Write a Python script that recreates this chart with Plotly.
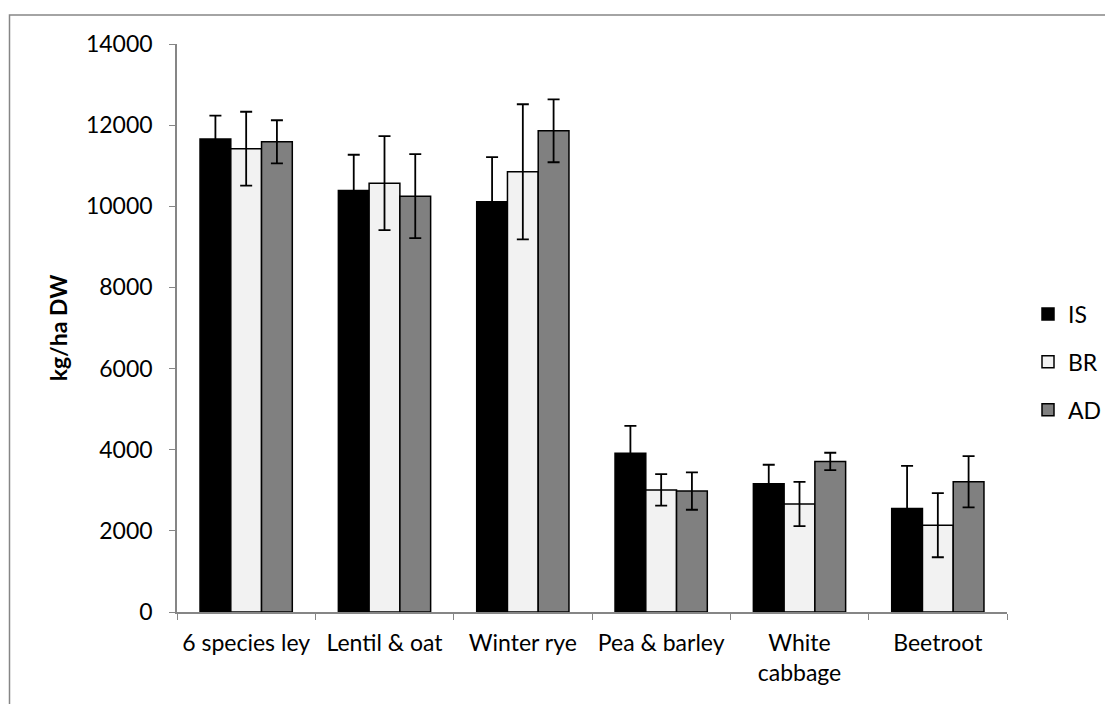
import plotly.graph_objects as go

categories = ["6 species ley", "Lentil & oat", "Winter rye", "Pea & barley", "White<br>cabbage", "Beetroot"]
series_names = ["IS", "BR", "AD"]
is_vals = [11660, 10390, 10110, 3910, 3160, 2550]
is_err = [575, 880, 1100, 680, 470, 1050]
br_vals = [11420, 10570, 10850, 3010, 2660, 2140]
br_err = [910, 1160, 1665, 390, 545, 790]
ad_vals = [11590, 10250, 11860, 2980, 3710, 3210]
ad_err = [530, 1035, 775, 460, 215, 630]
y_ticks = [0, 2000, 4000, 6000, 8000, 10000, 12000, 14000]

fills = ["#000000", "#f2f2f2", "#808080"]
values = [is_vals, br_vals, ad_vals]
errors = [is_err, br_err, ad_err]

FONT = "Lato, 'Open Sans', sans-serif"

fig = go.Figure()
for name, v, e, c in zip(series_names, values, errors, fills):
    fig.add_trace(go.Bar(
        name=name, x=categories, y=v, legendgroup=name,
        marker=dict(color=c, line=dict(color="#000000", width=1.5)),
        error_y=dict(type="data", array=e, visible=True, color="#000000", thickness=1.8, width=6),
    ))

# page has an 8px body margin; work in page coordinates and convert
OFF = 8
W, H = 1113 - OFF, 704 - OFF
ml, mt = 177 - OFF, 44 - OFF
mr = W - (1007 - OFF)
mb = H - (612 - OFF)
pw, ph = W - ml - mr, H - mt - mb

def px(x):
    return (x - OFF - ml) / pw

def py(y):
    return (H - mb - (y - OFF)) / ph

fig.update_layout(
    width=W, height=H,
    margin=dict(l=ml, r=mr, t=mt, b=mb, autoexpand=False),
    barmode="group", bargap=0.333, bargroupgap=0,
    plot_bgcolor="white", paper_bgcolor="white",
    font=dict(family=FONT, size=23, color="#000000"),
    showlegend=True,
    legend=dict(x=px(1028), y=py(362), xanchor="left", yanchor="middle",
                font=dict(size=23), traceorder="grouped", tracegroupgap=15, itemwidth=30,
                bgcolor="rgba(0,0,0,0)"),
    xaxis=dict(showline=True, linecolor="#868686", linewidth=1.5,
               ticks="outside", tickson="boundaries", ticklen=6, tickcolor="#868686",
               tickfont=dict(size=23), tickangle=0, ticklabelstandoff=10, showgrid=False),
    yaxis=dict(range=[0, 14000], tickvals=y_ticks, ticktext=[str(t) for t in y_ticks],
               showline=True, linecolor="#868686",
               linewidth=1.5, ticks="outside", ticklen=6, tickcolor="#868686",
               tickfont=dict(size=23), ticklabelstandoff=12, showgrid=False, zeroline=False,
               title=dict(text="<b>kg/ha DW</b>", font=dict(size=23), standoff=12)),
    shapes=[dict(type="rect", xref="paper", yref="paper",
                 x0=px(9.5), x1=px(1140), y0=py(15), y1=py(740),
                 line=dict(color="#868686", width=1.5), fillcolor="rgba(0,0,0,0)", layer="below")],
)

fig.write_html("out.html")
